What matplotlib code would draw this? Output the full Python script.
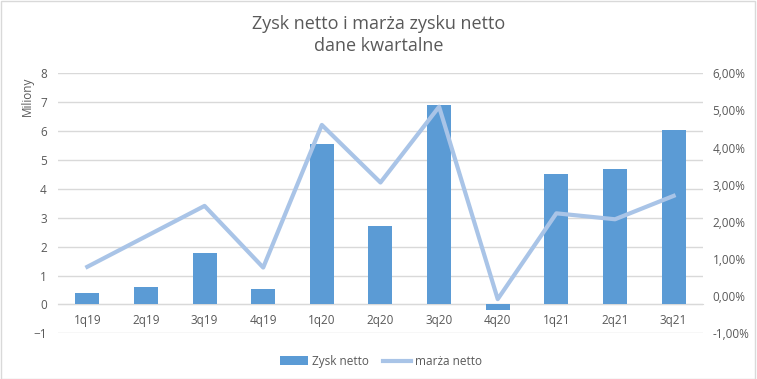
import numpy as np
import matplotlib.pyplot as plt
from matplotlib.patches import Rectangle

# dane kwartalne
kwartaly = ['1q19', '2q19', '3q19', '4q19', '1q20', '2q20', '3q20', '4q20', '1q21', '2q21', '3q21']
zysk_netto = [0.39, 0.60, 1.78, 0.53, 5.55, 2.71, 6.90, -0.20, 4.51, 4.69, 6.04]
marza_netto = [0.79, 1.61, 2.43, 0.77, 4.61, 3.06, 5.10, -0.08, 2.23, 2.07, 2.70]

plt.rcParams['font.family'] = ['Open Sans', 'DejaVu Sans']
txt_col = '#595959'
grid_col = '#d9d9d9'

fig = plt.figure(figsize=(7.57, 3.79), dpi=100)
ax = fig.add_axes([0.0766, 0.1206, 0.852, 0.686])
ax2 = ax.twinx()

x = np.arange(len(kwartaly))
b = ax.bar(x, zysk_netto, width=0.41, color='#5B9BD5', label='Zysk netto', zorder=3)
l, = ax2.plot(x, marza_netto, color='#A9C4E7', lw=3, label='marża netto', zorder=4)

ax.set_xlim(-0.5, len(kwartaly) - 0.5)
ax.set_ylim(-1, 8)
ax.set_yticks(range(-1, 9))
ax2.set_ylim(-1, 6)
ax2.set_yticks(range(-1, 7))
ax2.set_yticklabels([f'{v:.2f}%'.replace('.', ',') for v in range(-1, 7)])

ax.grid(axis='y', color=grid_col, lw=1, zorder=0)
ax.set_axisbelow(True)
for a in (ax, ax2):
    for s in ('top', 'left', 'right'):
        a.spines[s].set_visible(False)
    a.spines['bottom'].set_visible(False)
    a.tick_params(length=0, colors=txt_col, labelsize=8.5)
ax.spines['bottom'].set_visible(True)
ax.spines['bottom'].set_position(('data', 0))
ax.spines['bottom'].set_color(grid_col)
ax.set_xticks(x)
ax.set_xticklabels(kwartaly)
ax.tick_params(axis='x', pad=7)
ax.tick_params(axis='y', pad=8)
ax2.tick_params(axis='y', pad=7)
ax2.set_zorder(ax.get_zorder() + 1)
ax2.patch.set_visible(False)

fig.text(0.036, 0.745, 'Miliony', rotation=90, ha='center', va='center', color=txt_col, fontsize=8.5)
fig.text(0.5, 0.908, 'Zysk netto i marża zysku netto\ndane kwartalne', ha='center', va='center',
         color=txt_col, fontsize=13, linespacing=1.25)

fig.legend(handles=[b, l], loc='center', bbox_to_anchor=(0.503, 0.047), ncol=2, frameon=False,
           fontsize=8.5, labelcolor=txt_col, handlelength=2.4, handletextpad=0.3, columnspacing=1.2)

fig.patches.append(Rectangle((0.001, 0.001), 0.997, 0.997, transform=fig.transFigure,
                             fill=False, edgecolor=grid_col, lw=1))

fig.savefig('out.png', dpi=100)
